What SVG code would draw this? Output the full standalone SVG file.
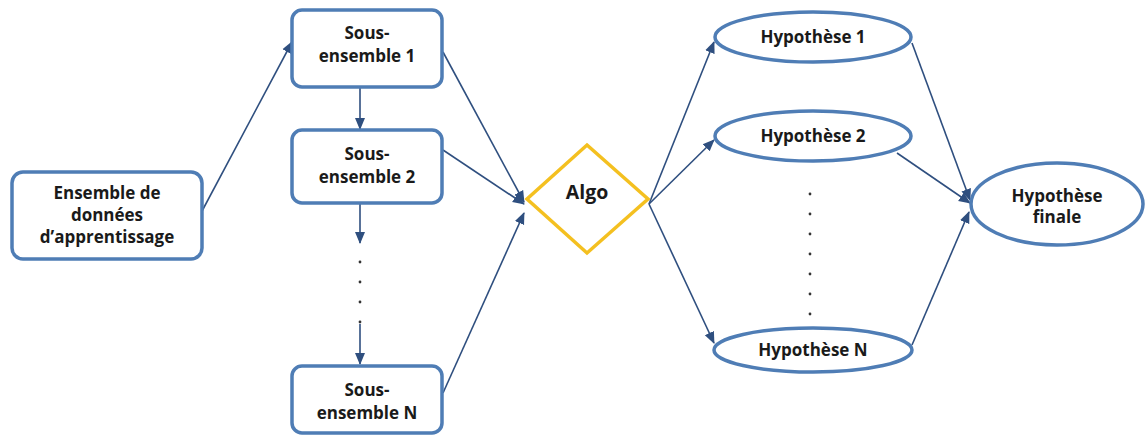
<svg xmlns="http://www.w3.org/2000/svg" width="1147" height="437" viewBox="0 0 1147 437">
  <style>
    .box { fill: #ffffff; stroke: #4f7db5; stroke-width: 3.5; }
    .algo { fill: #ffffff; stroke: #f4c020; stroke-width: 3.5; }
    .lbl { font-family: "Open Sans", "Liberation Sans", sans-serif; font-weight: bold; font-size: 17px; fill: #1a1a1a; text-anchor: middle; }
    .big { font-size: 19.5px; }
    .edge { stroke: #2f4f7f; stroke-width: 1.6; fill: none; marker-end: url(#arrow); }
    .dot { fill: #333333; }
  </style>
  <defs>
    <marker id="arrow" markerUnits="userSpaceOnUse" markerWidth="12" markerHeight="12" viewBox="0 0 12 12" refX="11" refY="6" orient="auto">
      <path d="M0,1 L12,6 L0,11 Z" fill="#2f4f7f"/>
    </marker>
  </defs>

  <!-- connectors -->
  <g id="connectors">
    <line class="edge" x1="201" y1="213" x2="292" y2="42"/>
    <line class="edge" x1="360" y1="88" x2="360" y2="129"/>
    <line class="edge" x1="360" y1="204" x2="360" y2="243"/>
    <line class="edge" x1="360" y1="324" x2="360" y2="364"/>
    <line class="edge" x1="443" y1="52" x2="524" y2="202"/>
    <line class="edge" x1="443" y1="150" x2="524" y2="204"/>
    <line class="edge" x1="443" y1="393" x2="524" y2="213"/>
    <line class="edge" x1="649" y1="204" x2="714" y2="42"/>
    <line class="edge" x1="649" y1="204" x2="714" y2="140"/>
    <line class="edge" x1="649" y1="204" x2="714" y2="343"/>
    <line class="edge" x1="912" y1="43" x2="970" y2="200"/>
    <line class="edge" x1="897" y1="153" x2="970" y2="203"/>
    <line class="edge" x1="912" y1="345" x2="969" y2="212"/>
    <!-- elided subsets -->
    <circle class="dot" cx="360" cy="262" r="1.4"/>
    <circle class="dot" cx="360" cy="282" r="1.4"/>
    <circle class="dot" cx="360" cy="302" r="1.4"/>
    <circle class="dot" cx="360" cy="322" r="1.4"/>
    <!-- elided hypotheses -->
    <circle class="dot" cx="810" cy="194" r="1.4"/>
    <circle class="dot" cx="810" cy="214" r="1.4"/>
    <circle class="dot" cx="810" cy="234" r="1.4"/>
    <circle class="dot" cx="810" cy="254" r="1.4"/>
    <circle class="dot" cx="810" cy="274" r="1.4"/>
    <circle class="dot" cx="810" cy="294" r="1.4"/>
    <circle class="dot" cx="810" cy="314" r="1.4"/>
  </g>

  <g id="ensemble">
    <rect class="box" x="12" y="172" width="190" height="87" rx="11"/>
    <text class="lbl" x="107" y="199">Ensemble de</text>
    <text class="lbl" x="107" y="221">données</text>
    <text class="lbl" x="107" y="243">d’apprentissage</text>
  </g>

  <g id="sous-ensemble-1">
    <rect class="box" x="292" y="10" width="150" height="77" rx="10"/>
    <text class="lbl" x="367" y="39">Sous-</text>
    <text class="lbl" x="367" y="62">ensemble 1</text>
  </g>

  <g id="sous-ensemble-2">
    <rect class="box" x="292" y="130" width="150" height="73" rx="10"/>
    <text class="lbl" x="367" y="160">Sous-</text>
    <text class="lbl" x="367" y="183">ensemble 2</text>
  </g>

  <g id="sous-ensemble-n">
    <rect class="box" x="292" y="366" width="150" height="67" rx="10"/>
    <text class="lbl" x="367" y="396">Sous-</text>
    <text class="lbl" x="367" y="419">ensemble N</text>
  </g>

  <g id="algo">
    <polygon class="algo" points="587,145 648,199 587,253 527,199"/>
    <text class="lbl big" x="587" y="199">Algo</text>
  </g>

  <g id="hypothese-1">
    <ellipse class="box" cx="813" cy="37" rx="98" ry="25"/>
    <text class="lbl" x="813" y="43">Hypothèse 1</text>
  </g>

  <g id="hypothese-2">
    <ellipse class="box" cx="813" cy="136" rx="98" ry="25"/>
    <text class="lbl" x="813" y="142">Hypothèse 2</text>
  </g>

  <g id="hypothese-n">
    <ellipse class="box" cx="813" cy="350" rx="99" ry="22"/>
    <text class="lbl" x="813" y="356">Hypothèse N</text>
  </g>

  <g id="hypothese-finale">
    <ellipse class="box" cx="1057" cy="204" rx="86" ry="41"/>
    <text class="lbl" x="1057" y="202">Hypothèse</text>
    <text class="lbl" x="1057" y="223">finale</text>
  </g>
</svg>
